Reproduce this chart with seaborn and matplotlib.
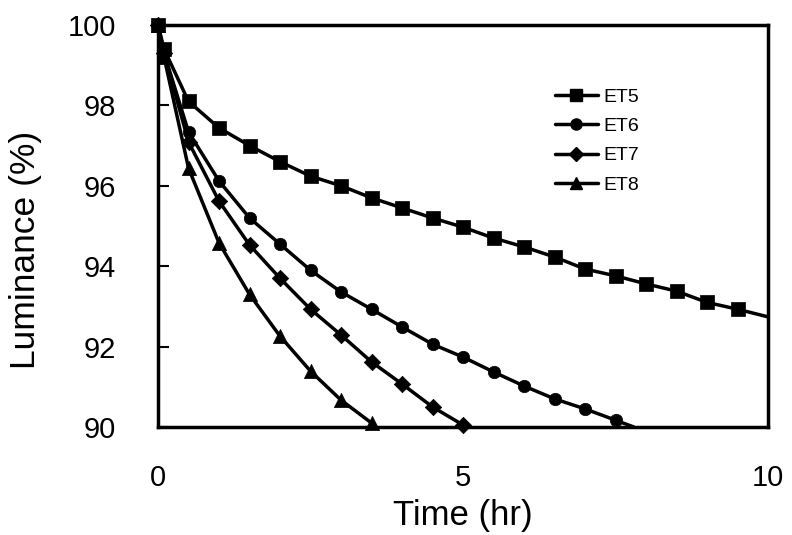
import matplotlib
matplotlib.use("Agg")
import matplotlib.pyplot as plt
from matplotlib.lines import Line2D
import seaborn as sns
import pandas as pd

# ---- data ----
t_et5 = [0, 0.1, 0.5, 1, 1.5, 2, 2.5, 3, 3.5, 4, 4.5, 5, 5.5, 6, 6.5, 7, 7.5, 8, 8.5, 9, 9.5]
v_et5 = [100, 99.4, 98.1, 97.44, 97.0, 96.6, 96.24, 96.0, 95.7, 95.45, 95.2, 94.97,
         94.7, 94.48, 94.23, 93.93, 93.76, 93.56, 93.38, 93.1, 92.93]
t_et5_end = [10]
v_et5_end = [92.74]

t_et6 = [0, 0.1, 0.5, 1, 1.5, 2, 2.5, 3, 3.5, 4, 4.5, 5, 5.5, 6, 6.5, 7, 7.5]
v_et6 = [100, 99.3, 97.34, 96.12, 95.2, 94.55, 93.9, 93.36, 92.93, 92.49, 92.06, 91.74,
         91.37, 91.02, 90.7, 90.45, 90.17]
t_et6_end = [7.8]
v_et6_end = [90.0]

t_et7 = [0, 0.1, 0.5, 1, 1.5, 2, 2.5, 3, 3.5, 4, 4.5, 5]
v_et7 = [100, 99.3, 97.09, 95.62, 94.53, 93.7, 92.93, 92.29, 91.62, 91.07, 90.5, 90.05]

t_et8 = [0, 0.1, 0.5, 1, 1.5, 2, 2.5, 3, 3.5]
v_et8 = [100, 99.2, 96.44, 94.58, 93.3, 92.26, 91.39, 90.67, 90.1]

series = ["ET5", "ET6", "ET7", "ET8"]
x_ticks = [0, 5, 10]
y_ticks = [90, 92, 94, 96, 98, 100]

# ---- tables ----
pts = pd.concat([
    pd.DataFrame({"Time": t_et5, "Lum": v_et5, "Series": "ET5"}),
    pd.DataFrame({"Time": t_et6, "Lum": v_et6, "Series": "ET6"}),
    pd.DataFrame({"Time": t_et7, "Lum": v_et7, "Series": "ET7"}),
    pd.DataFrame({"Time": t_et8, "Lum": v_et8, "Series": "ET8"}),
], ignore_index=True)
lines = pd.concat([
    pts,
    pd.DataFrame({"Time": t_et5_end, "Lum": v_et5_end, "Series": "ET5"}),
    pd.DataFrame({"Time": t_et6_end, "Lum": v_et6_end, "Series": "ET6"}),
], ignore_index=True).sort_values(["Series", "Time"])

sns.set_style("white")
plt.rcParams["font.family"] = ["Liberation Sans", "DejaVu Sans"]
for k in ["text.color", "axes.labelcolor", "xtick.color", "ytick.color"]:
    plt.rcParams[k] = "black"

fig = plt.figure(figsize=(7.92, 5.35), dpi=100)
ax = fig.add_axes([158 / 792, 1 - 427 / 535, 610 / 792, 402 / 535])

markers = {"ET5": "s", "ET6": "o", "ET7": "D", "ET8": "^"}
msize = {"ET5": 90, "ET6": 80, "ET7": 70, "ET8": 105}

for s in series:
    sub = lines[lines["Series"] == s]
    sns.lineplot(data=sub, x="Time", y="Lum", ax=ax, color="black", lw=2.5,
                 sort=False, estimator=None, legend=False)
for s in series:
    sub = pts[pts["Series"] == s]
    sns.scatterplot(data=sub, x="Time", y="Lum", ax=ax, color="black",
                    marker=markers[s], s=msize[s], edgecolor="black",
                    linewidth=0.5, legend=False, zorder=3)
for coll in ax.collections:
    coll.set_clip_on(False)

ax.set_xlim(0, 10)
ax.set_ylim(90, 100)
ax.set_xticks(x_ticks)
ax.set_yticks(y_ticks)
ax.set_xticklabels([str(v) for v in x_ticks], fontsize=21)
ax.set_yticklabels([str(v) for v in y_ticks], fontsize=21)
ax.tick_params(axis="y", direction="in", length=8, width=1.5, pad=30, left=True)
ax.tick_params(axis="x", length=0, pad=27)

for sp in ax.spines.values():
    sp.set_visible(True)
    sp.set_color("black")
    sp.set_linewidth(2.5)

ax.set_xlabel("Time (hr)", fontsize=25)
ax.set_ylabel("Luminance (%)", fontsize=25.5)
ax.xaxis.set_label_coords(0.5, -0.18)
ax.yaxis.set_label_coords(-0.19, 0.44)

handles = [Line2D([0], [0], color="black", lw=2.5, marker=markers[s],
                  markersize={"ET5": 8, "ET6": 8, "ET7": 7, "ET8": 9}[s]) for s in series]
ax.legend(handles, series, loc="upper left", bbox_to_anchor=(0.638, 0.862),
          frameon=False, fontsize=14, handlelength=2.2, handletextpad=0.3,
          labelspacing=0.6, borderaxespad=0)

fig.savefig("out.png", dpi=100)
